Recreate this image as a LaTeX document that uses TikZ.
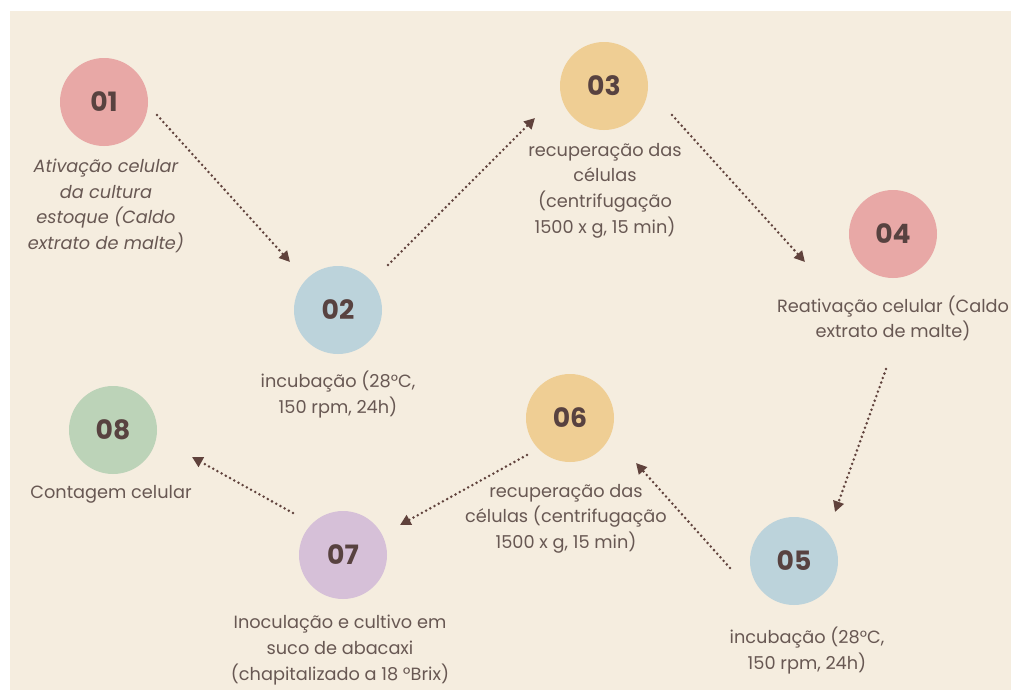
\documentclass[tikz,border=0pt]{standalone}
\usepackage{fontspec}
\setmainfont{Poppins}
\newfontfamily\numfont{Poppins Bold}
\usetikzlibrary{arrows.meta}
\definecolor{bgbeige}{RGB}{245,237,223}
\definecolor{cpink}{RGB}{232,168,166}
\definecolor{cblue}{RGB}{188,211,219}
\definecolor{cyellow}{RGB}{239,206,148}
\definecolor{cpurple}{RGB}{214,192,216}
\definecolor{cgreen}{RGB}{188,211,184}
\definecolor{numcol}{RGB}{88,66,64}
\definecolor{txtcol}{RGB}{104,88,83}
\definecolor{arrcol}{RGB}{96,66,60}
\tikzset{
  stepcircle/.style={circle, minimum size=66pt, inner sep=0pt, text=numcol,
    font=\numfont\fontsize{20}{20}\selectfont},
  desc/.style={align=center, text=txtcol, inner sep=0pt,
    font=\fontsize{13.3}{19.2}\selectfont},
  flowarrow/.style={arrcol, line width=2.1pt, line cap=round,
    dash pattern=on 0pt off 3.6pt, -{Triangle[length=8pt,width=8pt]}},
}
\begin{document}
\begin{tikzpicture}[x=0.75pt,y=-0.75pt]
\useasboundingbox (0,0) rectangle (1011,690);
\fill[white] (0,0) rectangle (1011,690);
\fill[bgbeige] (10,11) rectangle (1011,690);
% circles
\node[stepcircle, fill=cpink]   (n1) at (104,102) {01};
\node[stepcircle, fill=cblue]   (n2) at (338,310) {02};
\node[stepcircle, fill=cyellow] (n3) at (604,86)  {03};
\node[stepcircle, fill=cpink]   (n4) at (893,234) {04};
\node[stepcircle, fill=cblue]   (n5) at (794,561) {05};
\node[stepcircle, fill=cyellow] (n6) at (570,418) {06};
\node[stepcircle, fill=cpurple] (n7) at (343,555) {07};
\node[stepcircle, fill=cgreen]  (n8) at (113,430) {08};
% labels
\node[desc, font=\itshape\fontsize{13.3}{19.2}\selectfont] (l1) at (106,206)
  {Ativação celular\\da cultura\\estoque (Caldo\\extrato de malte)};
\node[desc] (l2) at (338,394.5) {incubação (28°C,\\150 rpm, 24h)};
\node[desc] (l3) at (605,190.5) {recuperação das\\células\\(centrifugação\\1500 x g, 15 min)};
\node[desc] (l4) at (893,318.5) {Reativação celular (Caldo\\extrato de malte)};
\node[desc] (l5) at (807,650.5) {incubação (28°C,\\150 rpm, 24h)};
\node[desc] (l6) at (566,518.5) {recuperação das\\células (centrifugação\\1500 x g, 15 min)};
\node[desc] (l7) at (340,650) {Inoculação e cultivo em\\suco de abacaxi\\(chapitalizado a 18 ºBrix)};
\node[desc] (l8) at (111,494) {Contagem celular};
% arrow end points
\coordinate (s12) at (157,115); \coordinate (e12) at (290,262);
\coordinate (s23) at (388,265); \coordinate (e23) at (535,118);
\coordinate (s34) at (672,115); \coordinate (e34) at (805,262);
\coordinate (s45) at (886,369); \coordinate (e45) at (835,512);
\coordinate (s56) at (730,568); \coordinate (e56) at (636,463);
\coordinate (s67) at (527,455); \coordinate (e67) at (400,525);
\coordinate (s78) at (293,513); \coordinate (e78) at (192,457);
\draw[flowarrow] (s12) -- (e12);
\draw[flowarrow] (s23) -- (e23);
\draw[flowarrow] (s34) -- (e34);
\draw[flowarrow] (s45) -- (e45);
\draw[flowarrow] (s56) -- (e56);
\draw[flowarrow] (s67) -- (e67);
\draw[flowarrow] (s78) -- (e78);
\end{tikzpicture}
\end{document}
